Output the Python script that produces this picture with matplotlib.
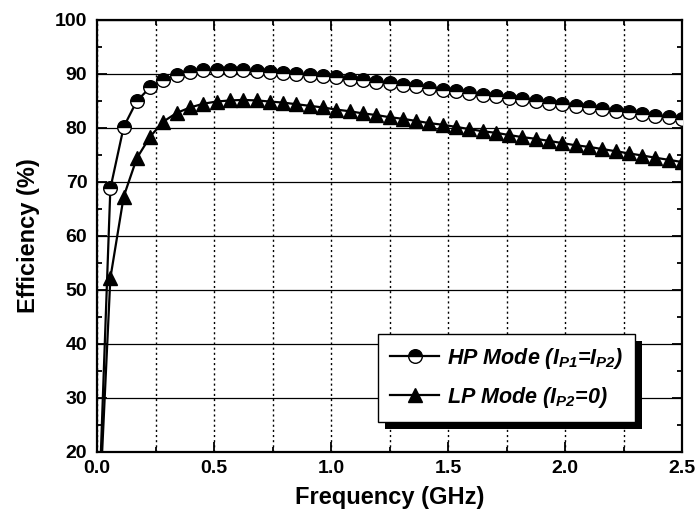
import matplotlib
matplotlib.use("Agg")
import matplotlib.pyplot as plt
from matplotlib.patches import Rectangle
from matplotlib.transforms import IdentityTransform
from matplotlib.ticker import MultipleLocator, FormatStrFormatter

plt.rcParams['font.family'] = ['Liberation Sans', 'DejaVu Sans']
plt.rcParams['mathtext.fontset'] = 'custom'
plt.rcParams['mathtext.rm'] = 'Liberation Sans:bold:italic'
plt.rcParams['mathtext.it'] = 'Liberation Sans:bold:italic'
plt.rcParams['mathtext.bf'] = 'Liberation Sans:bold:italic'

freq = [0.000, 0.057, 0.114, 0.170, 0.227, 0.284, 0.341, 0.398, 0.455, 0.511,
        0.568, 0.625, 0.682, 0.739, 0.795, 0.852, 0.909, 0.966, 1.023, 1.080,
        1.136, 1.193, 1.250, 1.307, 1.364, 1.420, 1.477, 1.534, 1.591, 1.648,
        1.705, 1.761, 1.818, 1.875, 1.932, 1.989, 2.045, 2.102, 2.159, 2.216,
        2.273, 2.330, 2.386, 2.443, 2.500]

hp_eff = [0.0, 68.8, 80.2, 85.0, 87.5, 88.9, 89.9, 90.4, 90.7, 90.8,
          90.8, 90.7, 90.6, 90.4, 90.2, 90.0, 89.8, 89.6, 89.4, 89.1,
          88.9, 88.6, 88.3, 88.0, 87.7, 87.4, 87.1, 86.8, 86.5, 86.2,
          85.9, 85.6, 85.3, 85.0, 84.7, 84.4, 84.1, 83.8, 83.5, 83.2,
          82.9, 82.6, 82.3, 82.0, 81.7]

lp_eff = [0.0, 52.2, 67.3, 74.4, 78.4, 81.2, 82.8, 83.8, 84.5, 84.9,
          85.1, 85.2, 85.1, 84.9, 84.7, 84.4, 84.1, 83.8, 83.4, 83.1,
          82.7, 82.4, 82.0, 81.7, 81.3, 80.9, 80.6, 80.2, 79.8, 79.4,
          79.1, 78.7, 78.3, 78.0, 77.6, 77.2, 76.8, 76.5, 76.1, 75.7,
          75.3, 74.9, 74.5, 74.1, 73.7]

labels = [r'HP Mode ($I_{P1}$=$I_{P2}$)', r'LP Mode ($I_{P2}$=0)']

fig = plt.figure(figsize=(6.99, 5.19), dpi=100)
ax = fig.add_axes([0.1388, 0.1291, 0.9757 - 0.1388, 0.9615 - 0.1291])

ax.plot(freq, hp_eff, color='black', lw=1.6, marker='o', markersize=9.8,
        fillstyle='top', markerfacecolor='black', markerfacecoloralt='white',
        markeredgecolor='black', markeredgewidth=1.0, label=labels[0], zorder=3)
ax.plot(freq, lp_eff, color='black', lw=1.6, marker='^', markersize=10.5,
        markerfacecolor='black', markeredgecolor='black', label=labels[1], zorder=3)

ax.set_xlim(0, 2.5)
ax.set_ylim(20, 100)
ax.xaxis.set_major_locator(MultipleLocator(0.5))
ax.xaxis.set_minor_locator(MultipleLocator(0.25))
ax.yaxis.set_major_locator(MultipleLocator(10))
ax.yaxis.set_minor_locator(MultipleLocator(5))
ax.xaxis.set_major_formatter(FormatStrFormatter('%.1f'))

ax.tick_params(which='both', direction='in', top=True, right=True, width=1.3)
ax.tick_params(which='major', length=7, labelsize=14)
ax.tick_params(which='minor', length=3.5)
ax.tick_params(axis='y', which='major', pad=7)
ax.tick_params(axis='x', which='major', pad=6)
for lbl in ax.get_xticklabels() + ax.get_yticklabels():
    lbl.set_fontweight('bold')

ax.grid(True, which='both', axis='x', color='black', linestyle=(0, (1.5, 2.2)), lw=1.0)
ax.grid(True, which='major', axis='y', color='black', linestyle='-', lw=0.9)

for s in ax.spines.values():
    s.set_linewidth(1.6)

ax.set_xlabel('Frequency (GHz)', fontsize=17, fontweight='bold', labelpad=6)
ax.set_ylabel('Efficiency (%)', fontsize=17, fontweight='bold', labelpad=11)

leg = ax.legend(loc='upper left', bbox_to_anchor=(0.4803, 0.2731), borderaxespad=0,
                frameon=True, fancybox=False, edgecolor='black', framealpha=1,
                prop={'size': 15.5, 'weight': 'bold', 'style': 'italic'},
                handlelength=2.3, handletextpad=0.35, borderpad=0.55, labelspacing=0.65)
leg.get_frame().set_linewidth(1.0)
leg.set_zorder(5)

fig.canvas.draw()
bb = leg.get_window_extent()
shadow = Rectangle((bb.x0 + 7, bb.y0 - 7), bb.width, bb.height, transform=IdentityTransform(),
                   facecolor='black', edgecolor='none', zorder=4.9, clip_on=False)
ax.add_artist(shadow)

fig.savefig('out.png', dpi=100)
